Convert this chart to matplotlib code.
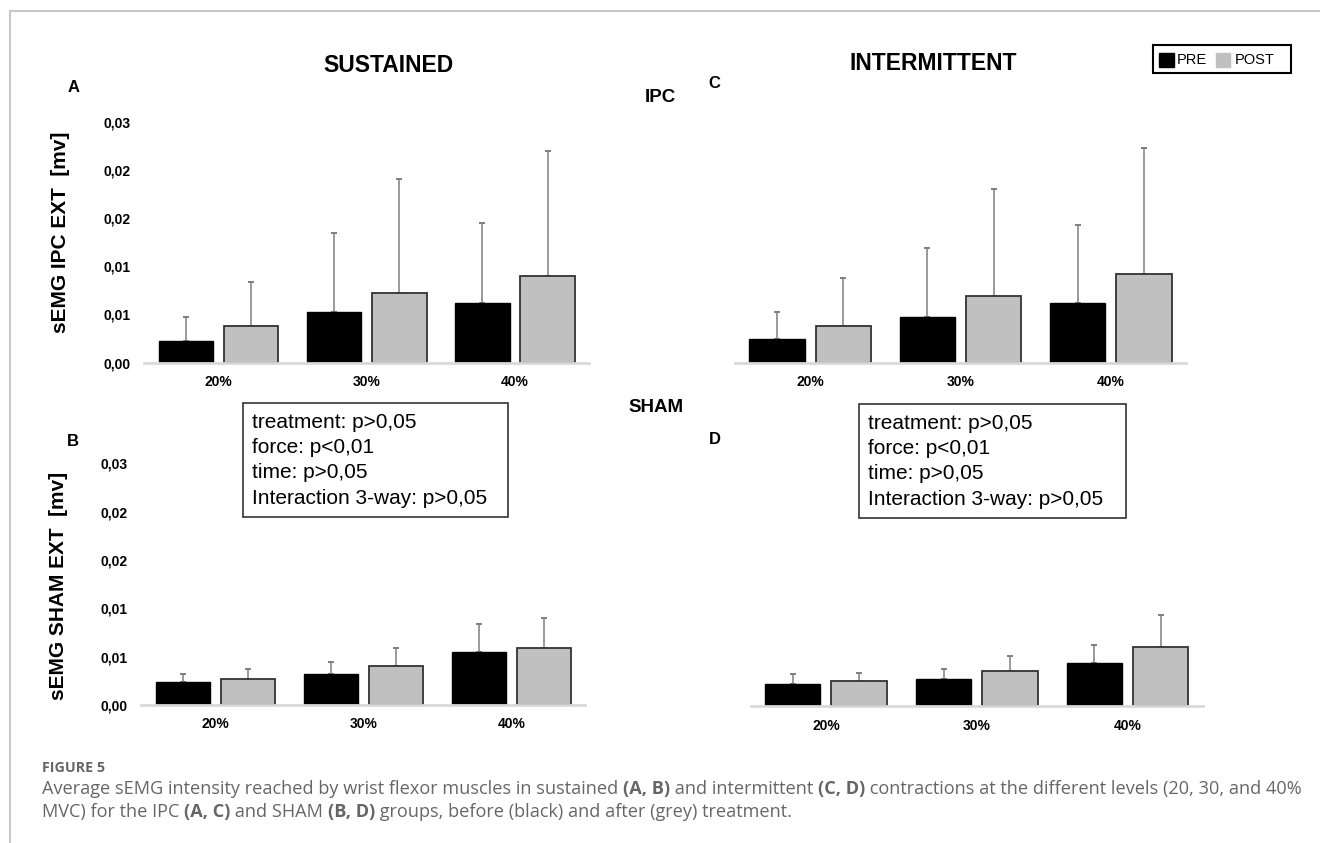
import numpy as np
import matplotlib
matplotlib.use("Agg")
import matplotlib.pyplot as plt
from matplotlib.patches import Rectangle
from matplotlib.lines import Line2D
from matplotlib.ticker import FuncFormatter

plt.rcParams['font.family'] = ['Liberation Sans', 'DejaVu Sans']

W, H = 1320, 843

# data (mean and SD, mV)
levels = ['20%', '30%', '40%']
ticks = [0, 0.005, 0.010, 0.015, 0.020, 0.025]

ipc_sus_pre = [0.00229, 0.00521, 0.00619]
ipc_sus_pre_sd = [0.00244, 0.00827, 0.00826]
ipc_sus_post = [0.00379, 0.00719, 0.00896]
ipc_sus_post_sd = [0.00459, 0.01184, 0.01302]

ipc_int_pre = [0.00244, 0.00473, 0.00619]
ipc_int_pre_sd = [0.00277, 0.00719, 0.00812]
ipc_int_post = [0.00379, 0.00688, 0.00917]
ipc_int_post_sd = [0.00496, 0.01118, 0.01309]

sham_sus_pre = [0.00240, 0.00323, 0.00552]
sham_sus_pre_sd = [0.00083, 0.00125, 0.00285]
sham_sus_post = [0.00271, 0.00403, 0.00594]
sham_sus_post_sd = [0.00097, 0.00184, 0.00305]

sham_int_pre = [0.00229, 0.00278, 0.00448]
sham_int_pre_sd = [0.00101, 0.00100, 0.00180]
sham_int_post = [0.00260, 0.00365, 0.00607]
sham_int_post_sd = [0.00084, 0.00156, 0.00333]

stats_lines = ['treatment: p>0,05', 'force: p<0,01', 'time: p>0,05',
               'Interaction 3-way: p>0,05']


def fx(px):
    return px / W


def fy(py):
    return 1 - py / H


def rect(x0, x1, ytop, ybot):
    return [fx(x0), fy(ybot), fx(x1) - fx(x0), fy(ytop) - fy(ybot)]


fig = plt.figure(figsize=(W / 100, H / 100), dpi=100)


def draw_panel(r, pre, pre_sd, post, post_sd, show_y):
    ax = fig.add_axes(r)
    x = np.arange(len(levels))
    ax.errorbar(x - 0.22, pre, yerr=[np.zeros(3), pre_sd], fmt='none',
                ecolor='#7f7f7f', elinewidth=1.1, capsize=2.5, capthick=1.4, zorder=1)
    ax.errorbar(x + 0.22, post, yerr=[np.zeros(3), post_sd], fmt='none',
                ecolor='#7f7f7f', elinewidth=1.1, capsize=2.5, capthick=1.4, zorder=1)
    ax.bar(x - 0.22, pre, 0.367, color='black', edgecolor='black', lw=1, zorder=2)
    ax.bar(x + 0.22, post, 0.367, color='#c0c0c0', edgecolor='#333333', lw=1.3, zorder=2)
    ax.set_xlim(-0.5, 2.5)
    ax.set_ylim(0, 0.025)
    for s in ['top', 'right', 'left']:
        ax.spines[s].set_visible(False)
    ax.spines['bottom'].set_color('#d9d9d9')
    ax.spines['bottom'].set_linewidth(2)
    ax.set_yticks(ticks)
    ax.yaxis.set_major_formatter(FuncFormatter(lambda v, p: f"{v + 1e-9:.2f}".replace('.', ',')))
    ax.set_xticks(x, levels)
    ax.tick_params(axis='y', length=0, pad=10, labelsize=10, labelleft=show_y)
    ax.tick_params(axis='x', length=0, pad=9, labelsize=10)
    for lab in ax.get_xticklabels() + ax.get_yticklabels():
        lab.set_fontweight('bold')
    return ax


draw_panel(rect(144.4, 589.2, 121.7, 362.7), ipc_sus_pre, ipc_sus_pre_sd,
           ipc_sus_post, ipc_sus_post_sd, True)
draw_panel(rect(734.9, 1186.1, 121.7, 362.7), ipc_int_pre, ipc_int_pre_sd,
           ipc_int_post, ipc_int_post_sd, False)
draw_panel(rect(141.3, 585.2, 463.3, 705), sham_sus_pre, sham_sus_pre_sd,
           sham_sus_post, sham_sus_post_sd, True)
draw_panel(rect(750.5, 1203, 464.3, 706), sham_int_pre, sham_int_pre_sd,
           sham_int_post, sham_int_post_sd, False)

# titles and panel letters
fig.text(fx(388), fy(65), 'SUSTAINED', ha='center', va='center', fontsize=16.5, fontweight='bold')
fig.text(fx(933.6), fy(63), 'INTERMITTENT', ha='center', va='center', fontsize=16.5, fontweight='bold')
fig.text(fx(660), fy(98), 'IPC', ha='center', va='center', fontsize=13.5, fontweight='bold')
fig.text(fx(656), fy(408), 'SHAM', ha='center', va='center', fontsize=13.5, fontweight='bold')
for t, x, y in [('A', 73.6, 87), ('C', 714.7, 83), ('B', 72.6, 442), ('D', 714.7, 439)]:
    fig.text(fx(x), fy(y), t, ha='center', va='center', fontsize=12, fontweight='bold')

fig.text(fx(61), fy(232.5), 'sEMG IPC EXT  [mv]', rotation=90, ha='center', va='center',
         fontsize=15, fontweight='bold')
fig.text(fx(59), fy(586), 'sEMG SHAM EXT  [mv]', rotation=90, ha='center', va='center',
         fontsize=15, fontweight='bold')

# stats boxes
for bx0, bx1, by0, by1 in [(242.8, 508, 403, 517), (858.7, 1125.5, 404, 518)]:
    fig.add_artist(Rectangle((fx(bx0), fy(by1)), fx(bx1) - fx(bx0), fy(by0) - fy(by1),
                             transform=fig.transFigure, fill=False, ec='#333333', lw=1.2))
    for i, line in enumerate(stats_lines):
        fig.text(fx(bx0 + 9.7), fy(by0 + 19.3 + i * 25.3), line, ha='left', va='center',
                 fontsize=15)

# legend
fig.add_artist(Rectangle((fx(1153), fy(73)), fx(1291) - fx(1153), fy(45) - fy(73),
                         transform=fig.transFigure, fill=False, ec='black', lw=1.5))
fig.add_artist(Rectangle((fx(1158.7), fy(67)), fx(1173.5) - fx(1158.7), fy(52.7) - fy(67),
                         transform=fig.transFigure, color='black'))
fig.add_artist(Rectangle((fx(1216), fy(67)), fx(1230) - fx(1216), fy(52.7) - fy(67),
                         transform=fig.transFigure, color='#c0c0c0'))
fig.text(fx(1177), fy(60), 'PRE', ha='left', va='center', fontsize=10.5)
fig.text(fx(1234.5), fy(60), 'POST', ha='left', va='center', fontsize=10.5)

# page frame
fig.add_artist(Line2D([fx(10), 1], [fy(11), fy(11)], transform=fig.transFigure, color='#c8c8c8', lw=1.5))
fig.add_artist(Line2D([fx(10), fx(10)], [fy(11), 0], transform=fig.transFigure, color='#c8c8c8', lw=1.5))

# caption
cap_kw = dict(fontsize=13.1, color='#666666', family=['Open Sans', 'DejaVu Sans'], va='center', ha='left')
fig.text(fx(42), fy(768), 'FIGURE 5', fontsize=10.3, color='#666666', fontweight='bold',
         family=['Open Sans', 'DejaVu Sans'], va='center', ha='left')
renderer = fig.canvas.get_renderer()


def text_width(s, bold):
    t = fig.text(0, 0, 'x' + s + 'x', fontweight='bold' if bold else 'normal', **cap_kw)
    t2 = fig.text(0, 0, 'xx', fontweight='bold' if bold else 'normal', **cap_kw)
    w = t.get_window_extent(renderer).width - t2.get_window_extent(renderer).width
    t.remove()
    t2.remove()
    return w


def rich_line(x, y, parts):
    for s, b in parts:
        fig.text(fx(x), fy(y), s, fontweight='bold' if b else 'normal', **cap_kw)
        x += text_width(s, b)


rich_line(42, 789, [('Average sEMG intensity reached by wrist flexor muscles in sustained ', False),
                    ('(A, B)', True), (' and intermittent ', False), ('(C, D)', True),
                    (' contractions at the different levels (20, 30, and 40%', False)])
rich_line(42, 812, [('MVC) for the IPC ', False), ('(A, C)', True), (' and SHAM ', False),
                    ('(B, D)', True), (' groups, before (black) and after (grey) treatment.', False)])

fig.savefig('out.png', dpi=100)
